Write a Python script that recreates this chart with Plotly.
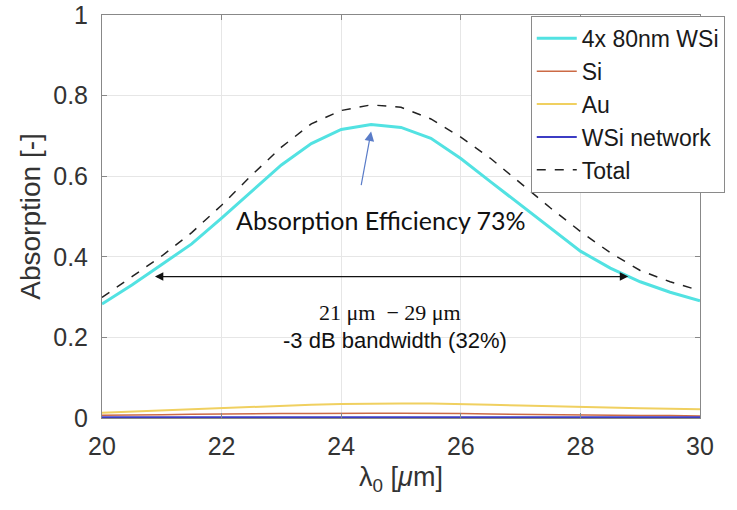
import plotly.graph_objects as go

# wavelength samples (µm)
wavelength = [20.0, 20.5, 21.0, 21.5, 22.0, 22.5, 23.0, 23.5, 24.0, 24.5, 25.0,
              25.5, 26.0, 26.5, 27.0, 27.5, 28.0, 28.5, 29.0, 29.5, 30.0]

abs_wsi = [0.283, 0.330, 0.381, 0.432, 0.496, 0.562, 0.628, 0.681, 0.716, 0.728, 0.721,
           0.694, 0.644, 0.586, 0.529, 0.471, 0.414, 0.372, 0.338, 0.312, 0.291]
abs_si = [0.007, 0.007, 0.008, 0.009, 0.010, 0.010, 0.011, 0.011, 0.012, 0.012, 0.012,
          0.012, 0.011, 0.010, 0.009, 0.008, 0.007, 0.007, 0.006, 0.006, 0.005]
abs_au = [0.013, 0.016, 0.019, 0.022, 0.025, 0.028, 0.031, 0.033, 0.035, 0.036, 0.036,
          0.036, 0.035, 0.033, 0.031, 0.029, 0.027, 0.025, 0.024, 0.023, 0.022]
abs_net = [0.002, 0.002, 0.002, 0.002, 0.002, 0.002, 0.002, 0.002, 0.002, 0.002, 0.002,
           0.002, 0.002, 0.002, 0.002, 0.002, 0.002, 0.002, 0.002, 0.002, 0.002]
abs_total = [0.299, 0.350, 0.402, 0.460, 0.528, 0.602, 0.672, 0.730, 0.763, 0.777, 0.771,
             0.742, 0.697, 0.644, 0.582, 0.521, 0.463, 0.410, 0.366, 0.338, 0.316]

series_names = ["4x 80nm WSi", "Si", "Au", "WSi network", "Total"]
x_ticks = [20, 22, 24, 26, 28, 30]
y_ticks = [0, 0.2, 0.4, 0.6, 0.8, 1]
y_tick_text = ["0", "0.2", "0.4", "0.6", "0.8", "1"]

fig = go.Figure()
fig.add_trace(go.Scatter(x=wavelength, y=abs_wsi, name=series_names[0], mode="lines",
                         line=dict(color="#52E2E2", width=3)))
fig.add_trace(go.Scatter(x=wavelength, y=abs_si, name=series_names[1], mode="lines",
                         line=dict(color="#CC6A45", width=1.5)))
fig.add_trace(go.Scatter(x=wavelength, y=abs_au, name=series_names[2], mode="lines",
                         line=dict(color="#F0D060", width=2)))
fig.add_trace(go.Scatter(x=wavelength, y=abs_net, name=series_names[3], mode="lines",
                         line=dict(color="#3C3CC4", width=2)))
fig.add_trace(go.Scatter(x=wavelength, y=abs_total, name=series_names[4], mode="lines",
                         line=dict(color="#222222", width=1.5, dash="dash")))

tick_font = dict(family="Liberation Sans, Arial, sans-serif", size=25, color="#333333")

fig.update_layout(
    width=737, height=510,
    margin=dict(l=102, r=35, t=15, b=92),
    paper_bgcolor="white", plot_bgcolor="white",
    font=dict(family="Liberation Sans, Arial, sans-serif", color="#262626"),
    showlegend=True,
    legend=dict(x=0.717, y=0.998, xanchor="left", yanchor="top",
                bgcolor="white", bordercolor="#8a8a8a", borderwidth=1,
                font=dict(family="Liberation Sans, Arial, sans-serif", size=23, color="#1a1a1a"),
                tracegroupgap=0, itemwidth=40),
    xaxis=dict(range=[20, 30], tickvals=x_ticks, ticktext=[str(v) for v in x_ticks],
               showgrid=True, gridcolor="#E6E6E6", gridwidth=1,
               showline=True, linecolor="#888888", linewidth=1, mirror="ticks",
               ticks="inside", ticklen=5, tickcolor="#888888",
               tickfont=tick_font, ticklabelstandoff=6, ticklabeloverflow="allow",
               zeroline=False, automargin=False,
               title=dict(text="λ<sub>0</sub> [<i>μ</i>m]",
                          font=dict(family="Liberation Sans, Arial, sans-serif", size=27, color="#333333"),
                          standoff=8)),
    yaxis=dict(range=[0, 1], tickvals=y_ticks, ticktext=y_tick_text,
               showgrid=True, gridcolor="#E6E6E6", gridwidth=1,
               showline=True, linecolor="#888888", linewidth=1, mirror="ticks",
               ticks="inside", ticklen=5, tickcolor="#888888",
               tickfont=tick_font, ticklabelstandoff=8, ticklabeloverflow="allow",
               zeroline=False, automargin=False,
               title=dict(text="Absorption [-]",
                          font=dict(family="Liberation Sans, Arial, sans-serif", size=28, color="#333333"),
                          standoff=4)),
)

# double-headed bandwidth arrow
fig.add_annotation(x=28.8, y=0.351, ax=20.86, ay=0.351, xref="x", yref="y", axref="x", ayref="y",
                   text="", showarrow=True, arrowhead=2, arrowside="end+start",
                   arrowsize=1.4, arrowwidth=1.2, arrowcolor="#111111")
# pointer to the peak
fig.add_annotation(x=24.5, y=0.711, ax=24.33, ay=0.574, xref="x", yref="y", axref="x", ayref="y",
                   text="", showarrow=True, arrowhead=2, arrowsize=1.6, arrowwidth=1.2,
                   arrowcolor="#5A7CC8")
fig.add_annotation(x=24.67, y=0.492, xref="x", yref="y", showarrow=False,
                   text="Absorption Efficiency 73%",
                   font=dict(family="Lato, Carlito, sans-serif", size=25, color="#111111"))
fig.add_annotation(x=24.82, y=0.262, xref="x", yref="y", showarrow=False,
                   text="21 μm  − 29 μm",
                   font=dict(family="Liberation Serif, serif", size=22, color="#111111"))
fig.add_annotation(x=24.9, y=0.192, xref="x", yref="y", showarrow=False,
                   text="-3 dB bandwidth (32%)",
                   font=dict(family="Liberation Sans, Arial, sans-serif", size=22, color="#111111"))

fig.write_html("out.html")
